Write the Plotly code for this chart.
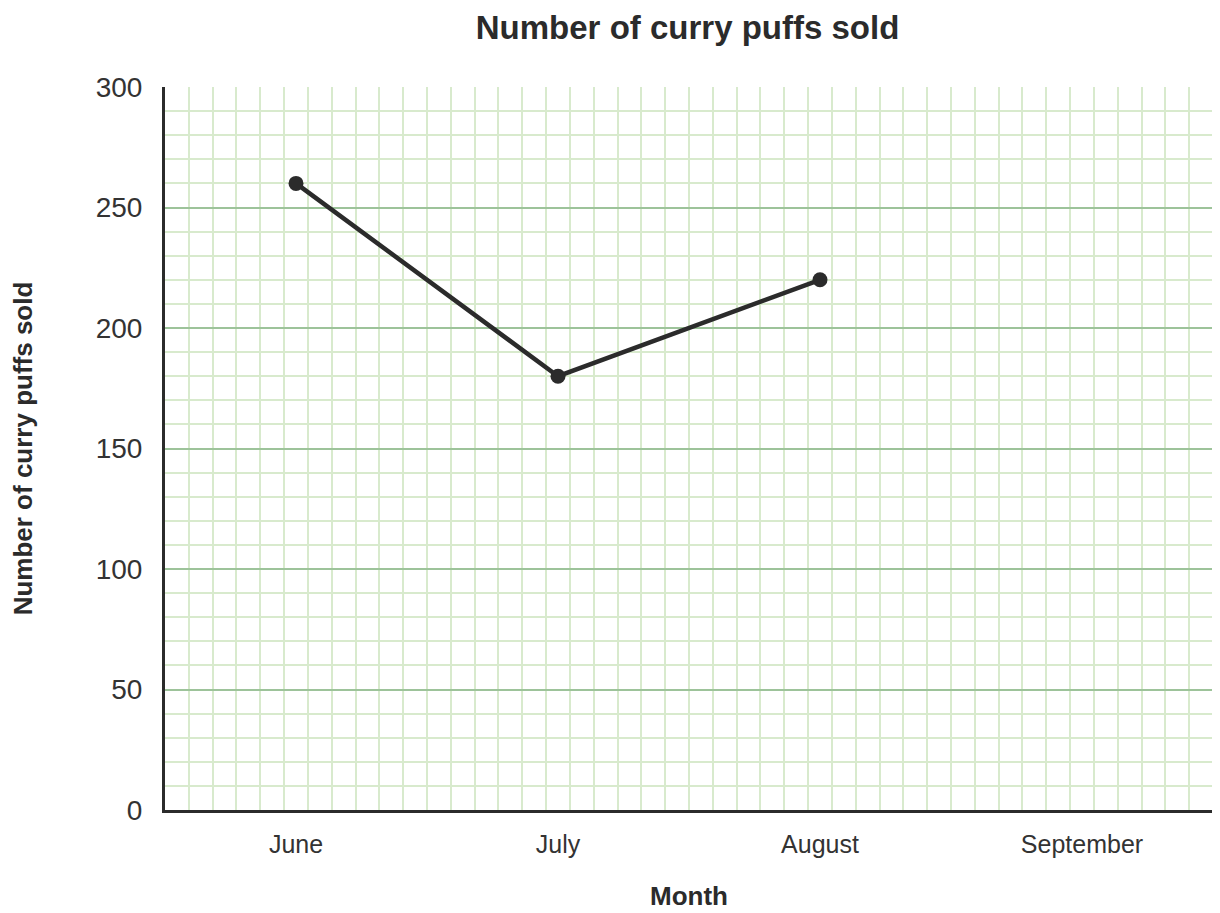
import plotly.graph_objects as go

# Data
months = ['June', 'July', 'August', 'September']
sold = [260, 180, 220, None]

y_ticks = [0, 50, 100, 150, 200, 250, 300]

dark = '#2b2b2b'
major_green = '#9dc39a'
minor_green = '#d8eacd'

fig = go.Figure()

fig.add_trace(go.Scatter(
    x=list(range(len(months))),
    y=sold,
    mode='lines+markers',
    line=dict(color=dark, width=4.5),
    marker=dict(color=dark, size=15),
    connectgaps=False,
    hovertemplate='%{text}: %{y}<extra></extra>',
    text=months,
    cliponaxis=False,
))

# page body adds an 8px margin, so the figure is 8px smaller than the window
fig.update_layout(
    width=1212,
    height=905,
    paper_bgcolor='white',
    plot_bgcolor='white',
    font=dict(family='Liberation Sans, Arial, sans-serif', color='#333333'),
    title=dict(
        text='<b>Number of curry puffs sold</b>',
        x=0.5607, xanchor='center',
        y=0.978, yanchor='middle',
        font=dict(size=33, color='#2b2b2b'),
    ),
    margin=dict(l=154, r=7, t=79, b=102),
    showlegend=False,
)

fig.update_xaxes(
    range=[-0.5, len(months) - 0.5],
    tickmode='array',
    tickvals=list(range(len(months))),
    ticktext=months,
    tickfont=dict(size=25, color='#333333'),
    ticks='outside',
    ticklen=10,
    tickcolor='rgba(0,0,0,0)',
    showgrid=False,
    zeroline=False,
    showline=True,
    linecolor=dark,
    linewidth=3,
    minor=dict(showgrid=True, gridcolor=minor_green, gridwidth=2,
               tick0=-0.5, dtick=len(months) / 44),
    title=dict(text='<b>Month</b>', font=dict(size=26, color='#2b2b2b'), standoff=30),
)

fig.update_yaxes(
    range=[0, 300],
    tickmode='array',
    tickvals=y_ticks,
    tickfont=dict(size=28, color='#333333'),
    ticks='outside',
    ticklen=14,
    tickcolor='rgba(0,0,0,0)',
    showgrid=True,
    gridcolor=major_green,
    gridwidth=2,
    zeroline=False,
    showline=True,
    linecolor=dark,
    linewidth=3,
    minor=dict(showgrid=True, gridcolor=minor_green, gridwidth=2, dtick=10),
    title=dict(text='<b>Number of curry puffs sold</b>', font=dict(size=26, color='#2b2b2b'), standoff=62),
)

fig.write_html('out.html')
